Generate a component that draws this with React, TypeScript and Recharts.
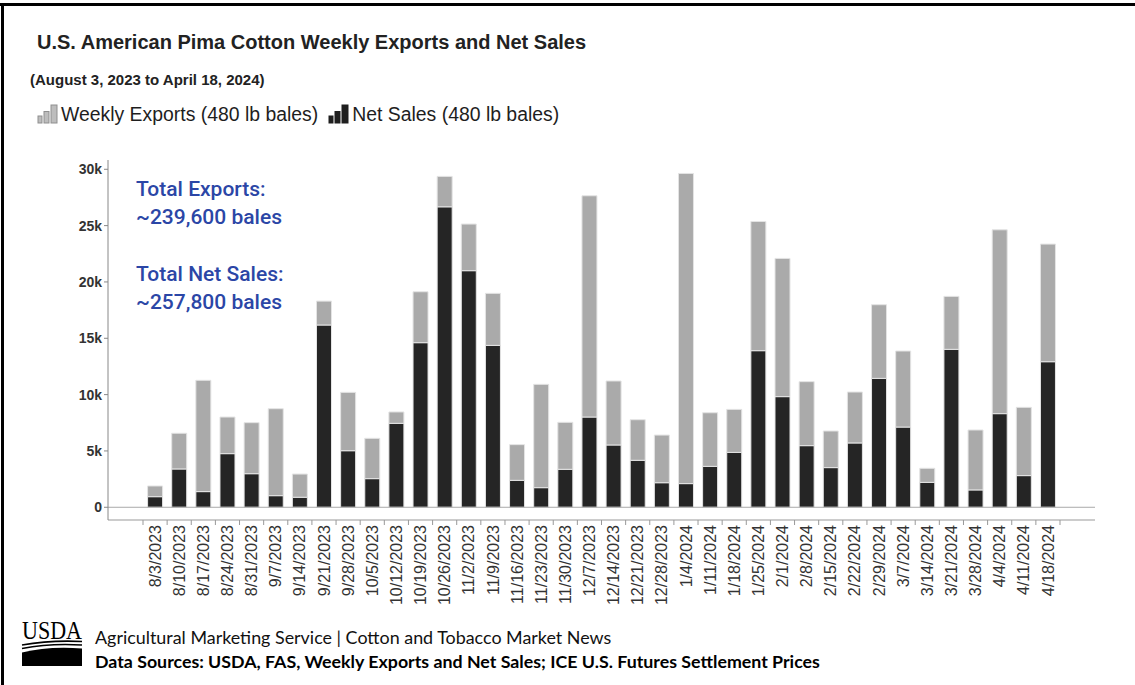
import React from "react";
import { BarChart, Bar, XAxis, YAxis, ReferenceLine } from "recharts";

const dates = [
  "8/3/2023", "8/10/2023", "8/17/2023", "8/24/2023", "8/31/2023", "9/7/2023", "9/14/2023",
  "9/21/2023", "9/28/2023", "10/5/2023", "10/12/2023", "10/19/2023", "10/26/2023", "11/2/2023",
  "11/9/2023", "11/16/2023", "11/23/2023", "11/30/2023", "12/7/2023", "12/14/2023", "12/21/2023",
  "12/28/2023", "1/4/2024", "1/11/2024", "1/18/2024", "1/25/2024", "2/1/2024", "2/8/2024",
  "2/15/2024", "2/22/2024", "2/29/2024", "3/7/2024", "3/14/2024", "3/21/2024", "3/28/2024",
  "4/4/2024", "4/11/2024", "4/18/2024",
];

const netSales = [
  940, 3400, 1390, 4760, 2980, 1030, 890, 16180, 5020, 2540, 7450, 14610, 26670, 21000,
  14370, 2390, 1740, 3370, 8010, 5530, 4170, 2180, 2100, 3630, 4870, 13900, 9820, 5470,
  3520, 5710, 11440, 7120, 2210, 14020, 1540, 8310, 2810, 12920,
];

const weeklyExports = [
  950, 3170, 9880, 3250, 4530, 7720, 2060, 2120, 5180, 3580, 1010, 4520, 2700, 4140,
  4620, 3170, 9170, 4170, 19640, 5680, 3600, 4230, 27530, 4760, 3820, 11470, 12270, 5680,
  3250, 4520, 6540, 6750, 1250, 4700, 5320, 16320, 6060, 10440,
];

const yTicks = [0, 5000, 10000, 15000, 20000, 25000, 30000];

const data = dates.map((d, i) => ({ date: d, net: netSales[i], exp: weeklyExports[i] }));

const AXIS_Y = 520;
const LABEL_TOP = 525;
const SANS = "'Liberation Sans', Arial, Helvetica, sans-serif";

const XTick = (props: any) => {
  const { x, payload } = props;
  const off = payload && payload.offset ? payload.offset : 12.07;
  const isLast = payload.value === dates[dates.length - 1];
  return (
    <g>
      <line x1={x - off} x2={x - off} y1={AXIS_Y} y2={AXIS_Y + 5} stroke="#999" />
      {isLast && <line x1={x + off} x2={x + off} y1={AXIS_Y} y2={AXIS_Y + 5} stroke="#999" />}
      <text
        x={x}
        y={LABEL_TOP}
        transform={`rotate(-90, ${x}, ${LABEL_TOP})`}
        textAnchor="end"
        dy="0.35em"
        fontSize={16}
        fill="#333"
        fontFamily={SANS}
      >
        {payload.value}
      </text>
    </g>
  );
};

const LegendIcon = ({ fill, stroke }: { fill: string; stroke: string }) => (
  <svg width={22} height={20} style={{ display: "block" }}>
    <rect x={1} y={12} width={4} height={7} fill={fill} stroke={stroke} strokeWidth={1} />
    <rect x={7} y={7.5} width={5} height={11.5} fill={fill} stroke={stroke} strokeWidth={1} />
    <rect x={14} y={1} width={6} height={18} fill={fill} stroke={stroke} strokeWidth={1} />
  </svg>
);

const blue = "#2b46a6";

export default function App() {
  return (
    <div
      style={{
        position: "absolute",
        left: 0,
        top: 0,
        width: 1135,
        height: 685,
        background: "#fff",
        overflow: "hidden",
        fontFamily: SANS,
      }}
    >
      <div style={{ position: "absolute", left: 0, top: 3, width: 1135, height: 3, background: "#000" }} />
      <div style={{ position: "absolute", left: 1, top: 3, width: 3, height: 682, background: "#000" }} />

      <div style={{ position: "absolute", left: 37, top: 31, fontSize: 20, fontWeight: 700, color: "#222", whiteSpace: "nowrap", lineHeight: "22px" }}>
        U.S. American Pima Cotton Weekly Exports and Net Sales
      </div>
      <div style={{ position: "absolute", left: 30, top: 71, fontSize: 15, fontWeight: 700, color: "#222", whiteSpace: "nowrap", lineHeight: "18px" }}>
        (August 3, 2023 to April 18, 2024)
      </div>
      <div style={{ position: "absolute", left: 37, top: 104, display: "flex", alignItems: "center", whiteSpace: "nowrap", fontSize: 19.4, color: "#1e1e1e", lineHeight: "20px" }}>
        <LegendIcon fill="#bdbdbd" stroke="#8f8f8f" />
        <span style={{ marginLeft: 2 }}>Weekly Exports (480 lb bales)</span>
        <span style={{ width: 10 }} />
        <LegendIcon fill="#1f1f1f" stroke="#1f1f1f" />
        <span style={{ marginLeft: 2 }}>Net Sales (480 lb bales)</span>
      </div>

      <div style={{ position: "absolute", left: 0, top: 0 }}>
        <BarChart
          width={1135}
          height={685}
          data={data}
          margin={{ top: 160, right: 40, bottom: 65, left: 48 }}
          barCategoryGap="19%"
        >
          <XAxis
            dataKey="date"
            interval={0}
            height={100}
            padding={{ left: 35, right: 35 }}
            axisLine={{ stroke: "#999" }}
            tickLine={false}
            tick={<XTick />}
          />
          <YAxis
            width={60}
            domain={[-1130, 30825]}
            ticks={yTicks}
            allowDataOverflow
            tickFormatter={(v: number) => (v === 0 ? "0" : `${v / 1000}k`)}
            axisLine={{ stroke: "#888" }}
            tickLine={{ stroke: "#888" }}
            tickSize={4}
            tickMargin={2}
            tick={{ fontSize: 14, fontWeight: 700, fill: "#333", fontFamily: SANS }}
          />
          <ReferenceLine y={0} stroke="#aaa" strokeWidth={1} />
          <Bar dataKey="net" stackId="a" fill="#252525" stroke="#e4e4e4" strokeWidth={1} isAnimationActive={false} />
          <Bar dataKey="exp" stackId="a" fill="#aaaaaa" stroke="#e4e4e4" strokeWidth={1} isAnimationActive={false} />
        </BarChart>
      </div>

      <div style={{ position: "absolute", left: 136, top: 175, fontFamily: "Roboto, sans-serif", fontSize: 21, fontWeight: 500, color: blue, lineHeight: "28px", whiteSpace: "nowrap" }}>
        <div>Total Exports:</div>
        <div>~239,600 bales</div>
        <div style={{ height: 29 }} />
        <div>Total Net Sales:</div>
        <div>~257,800 bales</div>
      </div>

      <svg style={{ position: "absolute", left: 18, top: 618 }} width={72} height={52}>
        <text x={4} y={21} fontFamily="'Liberation Serif', 'Times New Roman', serif" fontSize={25} fill="#000" textLength={60} lengthAdjust="spacingAndGlyphs">
          USDA
        </text>
        <path d="M4 27 Q 32 22 64 23.5" stroke="#000" strokeWidth={1.6} fill="none" />
        <path d="M4 30.5 Q 32 25 64 27" stroke="#000" strokeWidth={1.6} fill="none" />
        <path d="M4 48 L4 34.5 Q 30 28 64 30.5 L64 48 Z" fill="#000" />
      </svg>
      <div style={{ position: "absolute", left: 95, top: 627, fontFamily: "Lato, sans-serif", fontSize: 17.9, color: "#111", whiteSpace: "nowrap", lineHeight: "20px" }}>
        Agricultural Marketing Service | Cotton and Tobacco Market News
      </div>
      <div style={{ position: "absolute", left: 95, top: 651, fontFamily: "Lato, sans-serif", fontSize: 17.8, fontWeight: 700, color: "#000", whiteSpace: "nowrap", lineHeight: "20px" }}>
        Data Sources: USDA, FAS, Weekly Exports and Net Sales; ICE U.S. Futures Settlement Prices
      </div>
    </div>
  );
}
